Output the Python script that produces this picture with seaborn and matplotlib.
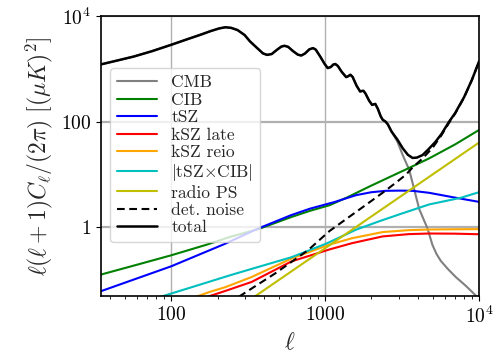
import seaborn as sns
import matplotlib
import matplotlib.pyplot as plt
import numpy as np

# values (ell, D_ell in muK^2)
ell_cmb = [35, 45, 57, 75, 100, 130, 155, 180, 205, 225, 245, 270, 300, 325,
           360, 395, 420, 450, 490, 520, 545, 575, 620, 665, 700, 740, 790,
           835, 870, 930, 990, 1040, 1090, 1130, 1165, 1210, 1280, 1370, 1410,
           1460, 1510, 1600, 1690, 1735, 1775, 1830, 1930, 2020, 2070, 2120,
           2200, 2300, 2370, 2470, 2560, 2700]
dl_cmb = [1210, 1440, 1700, 2150, 2840, 3700, 4400, 5150, 5800, 6100, 5950,
          5400, 4350, 3300, 2500, 1950, 1830, 1900, 2320, 2630, 2720, 2600,
          2150, 1850, 1780, 1940, 2330, 2460, 2300, 1700, 1250, 1030, 1080,
          1200, 1230, 1130, 880, 695, 720, 770, 700, 480, 370, 380, 382, 340,
          250, 207, 212, 216, 175, 125, 108, 100, 88, 65]
ell_cmb_tail = [2944, 3200, 3524, 3890, 4090, 4627, 4985, 5300, 5650, 6300,
                7066, 8200, 9523, 10000]
dl_cmb_tail = [42, 23, 12.1, 3.9, 2.2, 0.95, 0.46, 0.31, 0.23, 0.16, 0.114,
                0.078, 0.051, 0.046]

ell_total_tail = [2944, 3200, 3450, 3700, 3950, 4295, 4700, 5200, 5700, 6394,
                  7000, 8000, 9000, 10000]
dl_total_tail = [46, 31, 23.5, 20.5, 20.8, 23.2, 30, 41, 58, 99.6, 145, 290,
                 620, 1370]

ell_cib = [35, 60, 100, 170, 241, 368, 600, 800, 1070, 1400, 1942, 2612, 3524,
           4745, 7000, 10000]
dl_cib = [0.127, 0.195, 0.294, 0.467, 0.655, 0.92, 1.55, 2.05, 2.61, 3.7, 5.9,
          8.85, 13.3, 20.1, 37, 69.3]

ell_tsz = [35, 100, 224, 365, 604, 800, 1152, 1592, 2000, 2490, 3035, 3700,
           4745, 7000, 10000]
dl_tsz = [0.0616, 0.182, 0.486, 0.937, 1.70, 2.25, 3.0, 4.05, 4.6, 4.89, 4.93,
          4.89, 4.48, 3.63, 3.02]

ell_ksz = [100, 150, 179, 224, 333, 604, 1070, 1500, 2368, 3500, 4745, 7000, 10000]
dl_ksz_late = [0.025, 0.041, 0.05, 0.062, 0.092, 0.225, 0.38, 0.5, 0.67, 0.74,
               0.76, 0.755, 0.736]
dl_ksz_reio = [0.033, 0.05, 0.06, 0.073, 0.114, 0.255, 0.47, 0.62, 0.81, 0.88,
               0.905, 0.915, 0.92]

ell_cross = [35, 89, 150, 241, 368, 604, 1019, 1592, 2255, 3035, 4745, 7600, 10000]
dl_cross = [0.0215, 0.05, 0.08, 0.123, 0.177, 0.27, 0.49, 0.9, 1.3, 1.75, 2.7,
            3.6, 4.6]

ell_radio = [35, 100, 1000, 10000]
dl_radio = [0.00049, 0.004, 0.4, 40]

ell_noise = [150, 273, 471, 774, 1070, 1757, 2368, 2890, 3355, 3700, 4295,
             5000, 5700, 6394, 7000, 8000, 9000, 10000]
dl_noise = [0.0144, 0.0476, 0.132, 0.366, 0.85, 2.4, 4.5, 7.0, 9.9, 13.5, 20,
            32, 55, 95, 142, 285, 615, 1365]

sns.set_style("ticks", {"axes.grid": True, "grid.color": "#b0b0b0"})
plt.rcParams.update({
    "font.family": "serif",
    "font.serif": ["cmr10"],
    "mathtext.fontset": "cm",
    "axes.unicode_minus": False,
    "axes.formatter.use_mathtext": True,
    "axes.edgecolor": "black",
    "axes.linewidth": 1.2,
    "xtick.color": "black",
    "ytick.color": "black",
})

fig, ax = plt.subplots(figsize=(5, 3.54), dpi=100)
fig.subplots_adjust(left=0.202, right=0.958, bottom=0.164, top=0.955)

lw = 1.5
series = [
    (ell_cmb + ell_cmb_tail, dl_cmb + dl_cmb_tail, "gray", "-", "CMB"),
    (ell_cib, dl_cib, "green", "-", "CIB"),
    (ell_tsz, dl_tsz, "blue", "-", "tSZ"),
    (ell_ksz, dl_ksz_late, "red", "-", "kSZ late"),
    (ell_ksz, dl_ksz_reio, "orange", "-", "kSZ reio"),
    (ell_cross, dl_cross, "c", "-", r"$|\mathrm{tSZ}{\times}\mathrm{CIB}|$"),
    (ell_radio, dl_radio, "y", "-", "radio PS"),
    (ell_noise, dl_noise, "k", (0, (3.7, 2.2)), "det. noise"),
    (ell_cmb + ell_total_tail, dl_cmb + dl_total_tail, "k", "-", "total"),
]
for x, y, c, ls, lab in series:
    sns.lineplot(x=x, y=y, ax=ax, color=c, linestyle=ls, lw=lw if lab != "total" else 1.8,
                 label=lab, sort=False)

ax.set_xscale("log")
ax.set_yscale("log")
ax.set_xlim(35, 1e4)
ax.set_ylim(0.05, 1e4)
ax.set_xticks([100, 1000, 10000], ["$100$", "$1000$", "$10^4$"])
ax.set_yticks([1, 100, 10000], ["$1$", "$100$", "$10^4$"])
ax.yaxis.set_minor_locator(matplotlib.ticker.NullLocator())
ax.tick_params(labelsize=14)
ax.grid(True, which="major", axis="y", color="#b0b0b0", lw=1.6)
ax.grid(True, which="major", axis="x", color="#b0b0b0", lw=1.0)
ax.grid(False, which="minor")

ax.set_xlabel(r"$\ell$", fontsize=17)
ax.set_ylabel(r"$\ell(\ell+1)C_\ell/(2\pi)\ [(\mu K)^2]$", fontsize=17)

ax.legend(loc="upper left", bbox_to_anchor=(0.024, 0.814), borderaxespad=0,
          fontsize=12.6, labelspacing=0.12, handlelength=2.3)

fig.savefig("out.png", dpi=100)
